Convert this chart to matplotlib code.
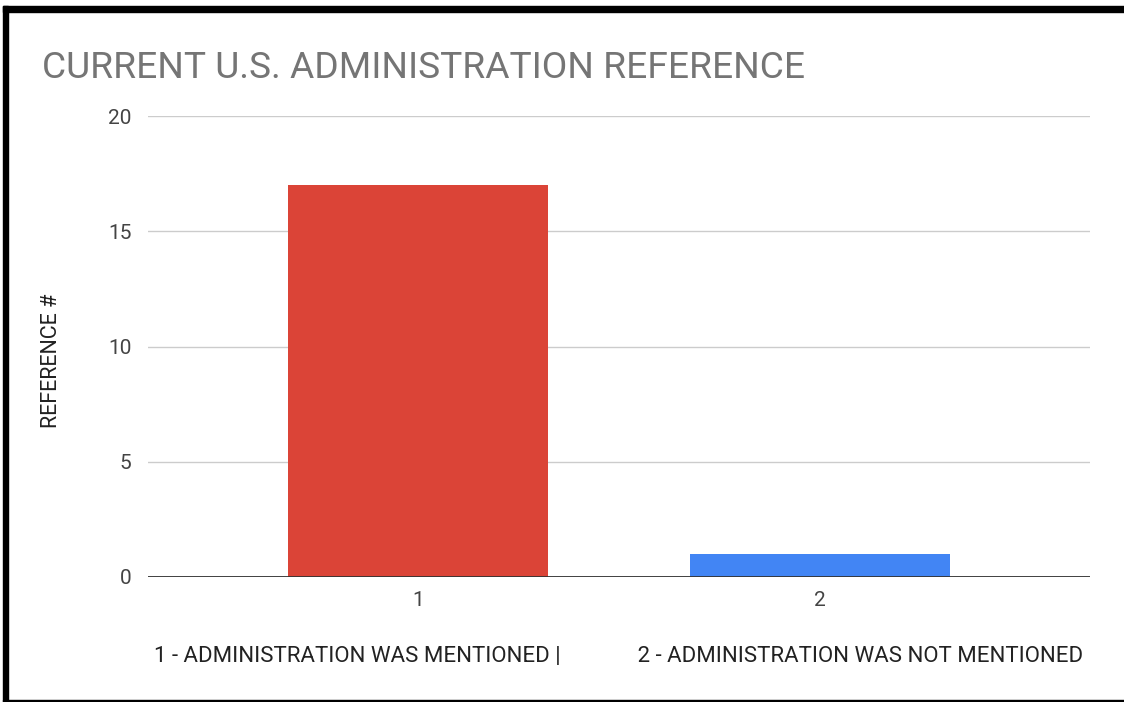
import matplotlib
matplotlib.use("Agg")
import matplotlib.pyplot as plt
from matplotlib.patches import Rectangle

categories = ['1', '2']
values = [17, 1]
colors = ['#db4437', '#4285f4']
y_ticks = [0, 5, 10, 15, 20]

plt.rcParams['font.family'] = ['Roboto', 'DejaVu Sans']

fig = plt.figure(figsize=(11.24, 7.02), dpi=100)
ax = fig.add_axes([148 / 1124, 125 / 702, 942 / 1124, 461 / 702])

x = range(len(categories))
ax.bar(x, values, width=0.647, color=colors, zorder=3)

ax.set_xlim(-0.672, 1.672)
ax.set_ylim(0, 20)
ax.set_yticks(y_ticks)
ax.set_xticks(list(x))
ax.set_xticklabels(categories)
ax.grid(axis='y', color='#cccccc', linewidth=1, zorder=0)
ax.axhline(0, color='#333333', linewidth=1.3, zorder=4)
for s in ax.spines.values():
    s.set_visible(False)
ax.tick_params(length=0, labelsize=15, labelcolor='#444444')
ax.tick_params(axis='y', pad=12)
ax.tick_params(axis='x', pad=10)

ax.set_ylabel('REFERENCE #', fontsize=15.5, color='#222222')
ax.yaxis.set_label_coords(-0.091, 0.47)
ax.set_xlabel('1 - ADMINISTRATION WAS MENTIONED |' + ' ' * 14 + '2 - ADMINISTRATION WAS NOT MENTIONED',
              fontsize=16, color='#222222', labelpad=26)

fig.text(42 / 1124, 1 - 78 / 702, 'CURRENT U.S. ADMINISTRATION REFERENCE',
         fontsize=26.7, color='#757575', ha='left', va='baseline')

# black frame of the screenshot
fig.patches.append(Rectangle((3 / 1124, 1 - 12 / 702), 1, 6 / 702,
                             transform=fig.transFigure, color='black'))
fig.patches.append(Rectangle((3 / 1124, 0), 5 / 1124, 1 - 6 / 702,
                             transform=fig.transFigure, color='black'))
fig.patches.append(Rectangle((3 / 1124, 1 / 702), 1, 1.5 / 702,
                             transform=fig.transFigure, color='black'))

fig.savefig('out.png', dpi=100, facecolor='white')
